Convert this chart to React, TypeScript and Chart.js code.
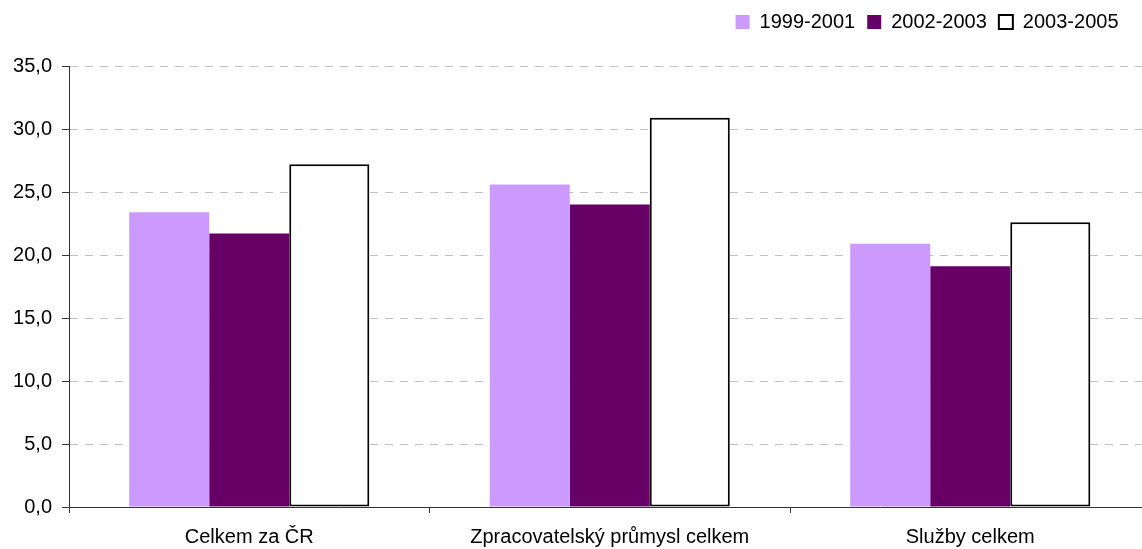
import { useEffect, useRef } from 'react';
import { Chart, registerables } from 'chart.js';

Chart.register(...registerables);

const categories = ['Celkem za ČR', 'Zpracovatelský průmysl celkem', 'Služby celkem'];
const seriesLabels = ['1999-2001', '2002-2003', '2003-2005'];
const values1999_2001 = [23.4, 25.6, 20.9];
const values2002_2003 = [21.7, 24.0, 19.1];
const values2003_2005 = [27.2, 30.9, 22.6];
const yMin = 0;
const yMax = 35;
const yStep = 5;

const FONT = '"Liberation Sans", Arial, sans-serif';

const legendShift = {
  id: 'legendShift',
  afterLayout(chart: any) {
    const lg = chart.legend;
    if (lg) {
      lg.left -= 20;
      lg.right -= 20;
    }
  },
};

export default function App() {
  const ref = useRef<HTMLCanvasElement | null>(null);

  useEffect(() => {
    document.body.style.margin = '0';
    document.body.style.overflow = 'hidden';
    const canvas = ref.current;
    if (!canvas) return;
    const chart = new Chart(canvas, {
      type: 'bar',
      data: {
        labels: categories,
        datasets: [
          {
            label: seriesLabels[0],
            data: values1999_2001,
            backgroundColor: '#CC99FF',
            borderWidth: 0,
          },
          {
            label: seriesLabels[1],
            data: values2002_2003,
            backgroundColor: '#660066',
            borderWidth: 0,
          },
          {
            label: seriesLabels[2],
            data: values2003_2005,
            backgroundColor: '#FFFFFF',
            borderColor: '#000000',
            borderWidth: 2,
            borderSkipped: false,
          },
        ],
      },
      options: {
        responsive: false,
        animation: false,
        layout: { padding: { left: 0, right: 9.5, top: 0, bottom: 0 } },
        datasets: {
          bar: { categoryPercentage: 0.666, barPercentage: 1.0 },
        },
        plugins: {
          tooltip: { enabled: false },
          legend: {
            position: 'top',
            align: 'end',
            labels: {
              boxWidth: 14,
              boxHeight: 14,
              padding: 12,
              color: '#000',
              font: { family: FONT, size: 20 },
            },
          },
        },
        scales: {
          x: {
            position: 'bottom',
            grid: {
              offset: true,
              drawOnChartArea: false,
              drawTicks: true,
              tickLength: 6,
              color: '#333',
              tickColor: '#333',
            },
            border: { display: true, color: '#333', width: 1 },
            ticks: {
              color: '#000',
              padding: 12,
              maxRotation: 0,
              autoSkip: false,
              font: { family: FONT, size: 20 },
            },
            afterFit(s: any) {
              s.height = 42;
            },
          },
          xTop: {
            type: 'category',
            position: 'top',
            display: true,
            grid: { display: false, drawTicks: false },
            border: { display: false },
            ticks: { display: false },
            afterFit(s: any) {
              s.height = 24;
            },
          },
          y: {
            min: yMin,
            max: yMax,
            ticks: {
              stepSize: yStep,
              color: '#000',
              padding: 10,
              font: { family: FONT, size: 20 },
              callback: (v: any) => Number(v).toFixed(1).replace('.', ','),
            },
            grid: {
              color: (c: any) => (c.tick && c.tick.value === 0 ? 'rgba(0,0,0,0)' : '#c0c0c0'),
              lineWidth: 1,
              drawTicks: true,
              tickLength: 7,
              tickColor: '#333',
              tickBorderDash: [],
            },
            border: { display: true, color: '#333', width: 1, dash: [8, 7] },
            afterFit(s: any) {
              s.width = 69;
            },
          },
        },
      } as any,
      plugins: [legendShift],
    });
    return () => chart.destroy();
  }, []);

  return (
    <div style={{ width: 1160, height: 549, overflow: 'hidden' }}>
      <canvas ref={ref} width={1160} height={549} style={{ display: 'block' }} />
    </div>
  );
}
